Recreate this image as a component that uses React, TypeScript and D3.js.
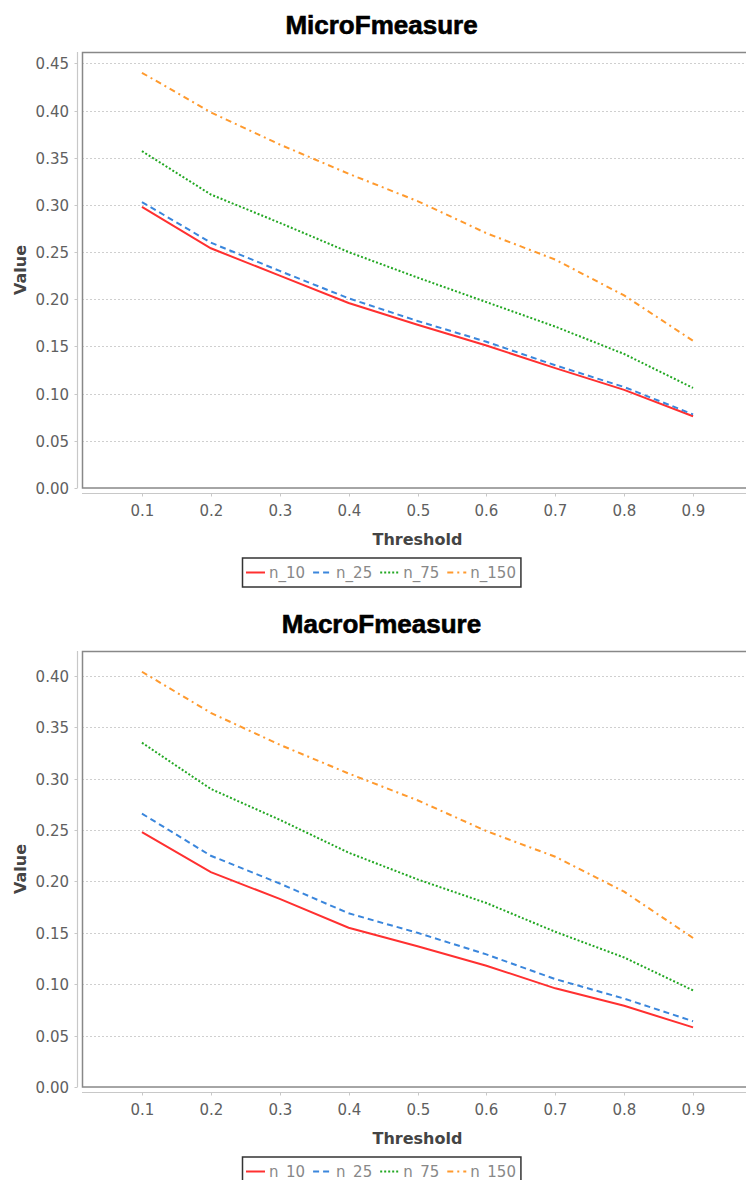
import React, { useEffect, useRef } from "react";
import * as d3 from "d3";

const thresholds = [0.1, 0.2, 0.3, 0.4, 0.5, 0.6, 0.7, 0.8, 0.9];
const seriesNames = ["n_10", "n_25", "n_75", "n_150"];
const seriesColors = ["#ff3030", "#3a86dc", "#23a823", "#ff9a2e"];
const seriesDash = ["none", "6,4", "2,2", "6,4,2,4"];

const microN10 = [0.298, 0.254, 0.225, 0.196, 0.173, 0.151, 0.127, 0.104, 0.076];
const microN25 = [0.303, 0.260, 0.230, 0.201, 0.177, 0.155, 0.130, 0.107, 0.078];
const microN75 = [0.357, 0.311, 0.281, 0.250, 0.223, 0.197, 0.171, 0.142, 0.106];
const microN150 = [0.440, 0.398, 0.364, 0.333, 0.304, 0.270, 0.242, 0.204, 0.156];

const macroN10 = [0.248, 0.209, 0.183, 0.155, 0.137, 0.118, 0.096, 0.079, 0.058];
const macroN25 = [0.266, 0.225, 0.198, 0.169, 0.150, 0.129, 0.105, 0.086, 0.064];
const macroN75 = [0.335, 0.290, 0.260, 0.228, 0.202, 0.179, 0.151, 0.126, 0.094];
const macroN150 = [0.404, 0.364, 0.333, 0.305, 0.279, 0.249, 0.224, 0.190, 0.145];

const xTickLabels = ["0.1", "0.2", "0.3", "0.4", "0.5", "0.6", "0.7", "0.8", "0.9"];

const charts = [
  { title: "MicroFmeasure", series: [microN10, microN25, microN75, microN150] },
  { title: "MacroFmeasure", series: [macroN10, macroN25, macroN75, macroN150] },
];

export default function App() {
  const ref = useRef<SVGSVGElement>(null);

  useEffect(() => {
    const svg = d3.select(ref.current);
    svg.selectAll("*").remove();

    const plotLeft = 82;
    const plotRight = 753;
    const plotTopBase = 52;
    const plotH = 436;
    const offset = 599;

    charts.forEach((chart, ci) => {
      const g = svg.append("g").attr("transform", `translate(0,${ci * offset})`);
      const top = plotTopBase;
      const bottom = top + plotH;

      const maxV = d3.max(chart.series.flat()) as number;
      const y = d3.scaleLinear().domain([0, maxV * 1.05]).range([bottom, top]);
      const x = d3.scaleLinear().domain([0.013, 0.987]).range([plotLeft, plotRight]);

      // title
      g.append("text")
        .attr("x", 381.5)
        .attr("y", 34)
        .attr("text-anchor", "middle")
        .attr("font-family", "'Liberation Sans', Arial, sans-serif")
        .attr("font-weight", "bold")
        .attr("font-size", 26)
        .attr("fill", "#000")
        .attr("stroke", "#000")
        .attr("stroke-width", 0.6)
        .text(chart.title);

      // plot background
      g.append("rect")
        .attr("x", plotLeft)
        .attr("y", top)
        .attr("width", plotRight - plotLeft)
        .attr("height", plotH)
        .attr("fill", "#fff");

      const yTicks = d3.range(0, maxV * 1.05 + 1e-9, 0.05);

      // gridlines
      g.selectAll(".grid")
        .data(yTicks.filter((t) => t > 0))
        .enter()
        .append("line")
        .attr("x1", plotLeft)
        .attr("x2", plotRight)
        .attr("y1", (d) => Math.round(y(d)) + 0.5)
        .attr("y2", (d) => Math.round(y(d)) + 0.5)
        .attr("stroke", "#cfcfcf")
        .attr("stroke-width", 1)
        .attr("stroke-dasharray", "2,2");

      // plot border
      g.append("rect")
        .attr("x", plotLeft + 0.5)
        .attr("y", top + 0.5)
        .attr("width", plotRight - plotLeft)
        .attr("height", plotH - 0.5)
        .attr("fill", "none")
        .attr("stroke", "#888")
        .attr("stroke-width", 1.5);

      // y axis
      const yAxisX = 77.5;
      g.append("line")
        .attr("x1", yAxisX).attr("x2", yAxisX)
        .attr("y1", top).attr("y2", bottom)
        .attr("stroke", "#c8c8c8").attr("stroke-width", 1.2);
      yTicks.forEach((t) => {
        const yy = Math.round(y(t)) + 0.5;
        g.append("line")
          .attr("x1", yAxisX - 3).attr("x2", yAxisX)
          .attr("y1", yy).attr("y2", yy)
          .attr("stroke", "#c8c8c8");
        g.append("text")
          .attr("x", 69)
          .attr("y", yy + 5.5)
          .attr("text-anchor", "end")
          .attr("font-family", "'DejaVu Sans', sans-serif")
          .attr("font-size", 15)
          .attr("fill", "#606060")
          .text(t.toFixed(2));
      });

      // x axis
      const xAxisY = bottom + 5.5;
      g.append("line")
        .attr("x1", plotLeft).attr("x2", plotRight)
        .attr("y1", xAxisY).attr("y2", xAxisY)
        .attr("stroke", "#c8c8c8").attr("stroke-width", 1.2);
      thresholds.forEach((t, i) => {
        const xx = Math.round(x(t)) + 0.5;
        g.append("line")
          .attr("x1", xx).attr("x2", xx)
          .attr("y1", xAxisY).attr("y2", xAxisY + 3)
          .attr("stroke", "#c8c8c8");
        g.append("text")
          .attr("x", xx)
          .attr("y", bottom + 27.5)
          .attr("text-anchor", "middle")
          .attr("font-family", "'DejaVu Sans', sans-serif")
          .attr("font-size", 15)
          .attr("fill", "#606060")
          .text(xTickLabels[i]);
      });

      // axis titles
      g.append("text")
        .attr("x", (plotLeft + plotRight) / 2)
        .attr("y", bottom + 57)
        .attr("text-anchor", "middle")
        .attr("font-family", "'DejaVu Sans', sans-serif")
        .attr("font-weight", "bold")
        .attr("font-size", 16)
        .attr("fill", "#444")
        .text("Threshold");
      g.append("text")
        .attr("transform", `translate(26,${(top + bottom) / 2}) rotate(-90)`)
        .attr("text-anchor", "middle")
        .attr("font-family", "'DejaVu Sans', sans-serif")
        .attr("font-weight", "bold")
        .attr("font-size", 16)
        .attr("fill", "#444")
        .text("Value");

      // series lines
      const line = d3
        .line<number>()
        .x((_, i) => x(thresholds[i]))
        .y((d) => y(d));
      chart.series.forEach((s, si) => {
        g.append("path")
          .attr("d", line(s) as string)
          .attr("fill", "none")
          .attr("stroke", seriesColors[si])
          .attr("stroke-width", 2)
          .attr("stroke-dasharray", seriesDash[si]);
      });

      // legend
      const lg = g.append("g");
      const legTop = 557.5;
      const legH = 29;
      let cx = 246;
      seriesNames.forEach((name, si) => {
        const lx = cx;
        lg.append("line")
          .attr("x1", lx).attr("x2", lx + 19)
          .attr("y1", legTop + 15).attr("y2", legTop + 15)
          .attr("stroke", seriesColors[si])
          .attr("stroke-width", 2)
          .attr("stroke-dasharray", seriesDash[si]);
        const t = lg.append("text")
          .attr("x", lx + 23)
          .attr("y", legTop + 20.5)
          .attr("font-family", "'DejaVu Sans', sans-serif")
          .attr("font-size", 15)
          .attr("fill", "#888")
          .text(name);
        const w = (t.node() as SVGTextElement).getComputedTextLength();
        cx = lx + 23 + w + 8;
      });
      const legRight = cx - 8 + 5;
      lg.insert("rect", ":first-child")
        .attr("x", 242.5)
        .attr("y", legTop + 0.5)
        .attr("width", legRight - 242.5)
        .attr("height", legH)
        .attr("fill", "#fff")
        .attr("stroke", "#333")
        .attr("stroke-width", 1.5);
    });
  }, []);

  return (
    <svg
      ref={ref}
      width={746}
      height={1180}
      style={{ position: "absolute", left: 0, top: 0, background: "#fff" }}
    />
  );
}
